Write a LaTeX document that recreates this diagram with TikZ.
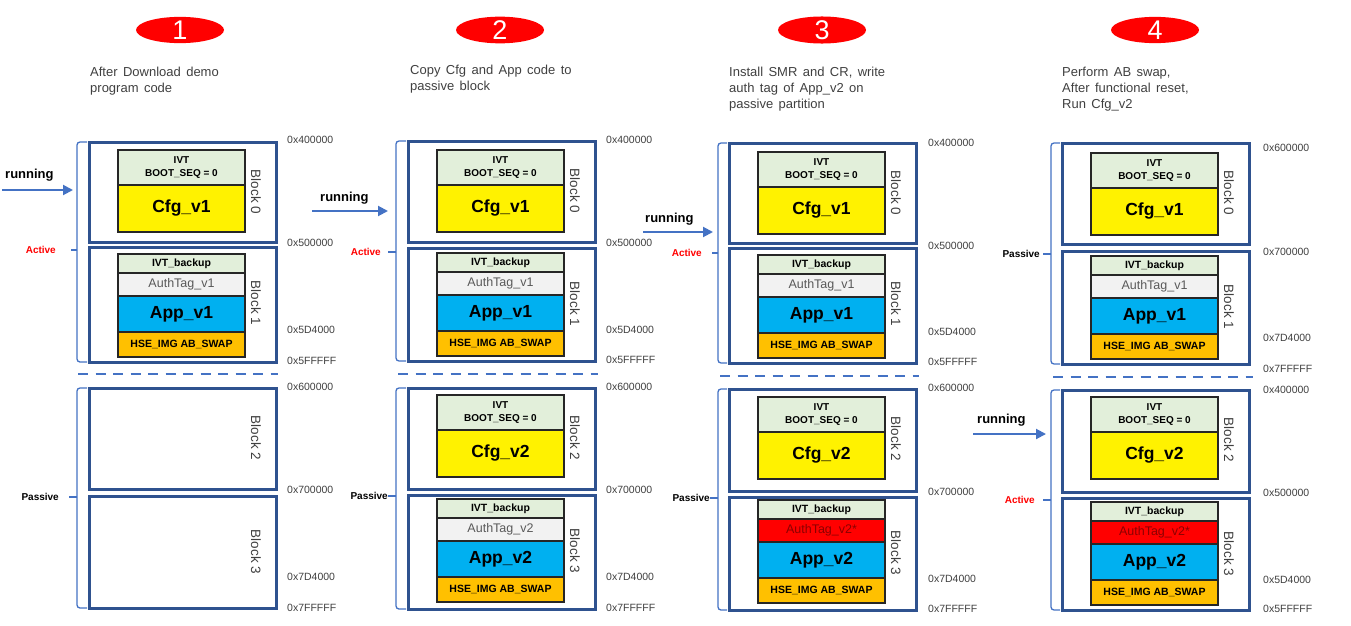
\documentclass[tikz,border=0pt]{standalone}
\usepackage{fontspec}
\setmainfont{Liberation Sans}
\newfontfamily\capfont[WordSpace=1.5]{Liberation Sans}
\usetikzlibrary{arrows.meta,shapes.geometric}
\definecolor{blkblue}{RGB}{47,82,143}
\definecolor{lnblue}{RGB}{68,114,196}
\definecolor{ivtgreen}{RGB}{226,239,218}
\definecolor{authgray}{RGB}{242,242,242}
\definecolor{authtxt}{RGB}{89,89,89}
\definecolor{appblue}{RGB}{0,176,240}
\definecolor{hseorange}{RGB}{255,192,0}
\definecolor{txtgray}{RGB}{64,64,64}
\definecolor{authred}{RGB}{140,0,0}
\newcommand\myfs[2]{\fontsize{#1}{#2}\selectfont}
\tikzset{
 outerblk/.style={draw=blkblue, line width=3pt, minimum width=187pt, anchor=north west, inner sep=0pt, outer sep=0pt},
 seg/.style={draw=black!85, line width=1.3pt, minimum width=127pt, anchor=north west, inner sep=0pt, outer sep=0pt, align=center},
 ivtseg/.style={seg, fill=ivtgreen, minimum height=35pt, font=\bfseries\myfs{10}{12.5}},
 cfgseg/.style={seg, fill=yellow, minimum height=47pt, font=\bfseries\myfs{17.5}{20}},
 ivtbseg/.style={seg, fill=ivtgreen, minimum height=19pt, font=\bfseries\myfs{10.5}{12}},
 authseg/.style={seg, fill=authgray, text=authtxt, minimum height=23pt, font=\myfs{12.5}{14}},
 authredseg/.style={seg, fill=red, text=authred, minimum height=23pt, font=\myfs{12.5}{14}},
 appseg/.style={seg, fill=appblue, minimum height=36pt, font=\bfseries\myfs{17.5}{20}},
 hseseg/.style={seg, fill=hseorange, minimum height=25pt, font=\bfseries\myfs{10.5}{12}},
 blklbl/.style={rotate=-90, text=txtgray, font=\myfs{13.5}{15}, inner sep=0pt},
 addr/.style={anchor=west, text=txtgray, font=\myfs{10.5}{12}, inner sep=0pt},
 brace/.style={draw=lnblue, line width=1.3pt, rounded corners=3pt},
 divider/.style={draw=lnblue, line width=2.6pt, dash pattern=on 10pt off 7.5pt},
 runarrow/.style={draw=lnblue, line width=2pt, -{Triangle[length=10pt,width=10pt]}},
 runlbl/.style={anchor=west, font=\bfseries\myfs{13}{15}, inner sep=0pt},
 activelbl/.style={anchor=east, text=red, font=\bfseries\myfs{10}{12}, inner sep=0pt},
 passivelbl/.style={anchor=east, text=black, font=\bfseries\myfs{10}{12}, inner sep=0pt},
 stepnum/.style={ellipse, fill=red, minimum width=88pt, minimum height=26pt, inner sep=0pt, text=white, font=\myfs{27}{27}},
 captionlbl/.style={anchor=north west, align=left, text=txtgray, font=\capfont\myfs{13}{16}, inner sep=0pt},
}
% name, x0, y0, h, cfg text, block label, inner offset
\newcommand\cfgblk[7]{%
  \node[outerblk, minimum height=#4] (#1) at (#2,#3) {};
  \node[ivtseg] (#1i) at (#2+29,#3+#7) {IVT\\BOOT\_SEQ = 0};
  \node[cfgseg] (#1c) at (#1i.south west) {#5};
  \node[blklbl] (#1l) at (#2+167,#3+50) {#6};
}
% name, x0, y0, h, auth style, auth text, app text, block label, inner offset
\newcommand\appblk[9]{%
  \node[outerblk, minimum height=#4] (#1) at (#2,#3) {};
  \node[ivtbseg] (#1i) at (#2+29,#3+#9) {IVT\_backup};
  \node[#5] (#1a) at (#1i.south west) {#6};
  \node[appseg] (#1p) at (#1a.south west) {#7};
  \node[hseseg] (#1h) at (#1p.south west) {HSE\_IMG AB\_SWAP};
  \node[blklbl] (#1l) at (#2+167,#3+56) {#8};
}
\begin{document}
\begin{tikzpicture}[x=1pt,y=-1pt]
\useasboundingbox (0,0) rectangle (1351,626);
\fill[white] (0,0) rectangle (1351,626);

% ---------------- Panel 1 ----------------
\node[stepnum] (n1) at (180,30) {1};
\node[captionlbl] (c1) at (90,67) {After Download demo\\program code};
\cfgblk{p1b0}{89}{142}{100}{Cfg\_v1}{Block 0}{8}
\appblk{p1b1}{89}{247}{115}{authseg}{AuthTag\_v1}{App\_v1}{Block 1}{7}
\node[outerblk, minimum height=101] (p1b2) at (89,388) {};
\node[blklbl] (p1b2l) at (256,438) {Block 2};
\node[outerblk, minimum height=112] (p1b3) at (89,496) {};
\node[blklbl] (p1b3l) at (256,552) {Block 3};
\node[addr] (p1a1) at (287,140) {0x400000};
\node[addr] (p1a2) at (287,243) {0x500000};
\node[addr] (p1a3) at (287,330) {0x5D4000};
\node[addr] (p1a4) at (287,361) {0x5FFFFF};
\node[addr] (p1a5) at (287,387) {0x600000};
\node[addr] (p1a6) at (287,490) {0x700000};
\node[addr] (p1a7) at (287,577) {0x7D4000};
\node[addr] (p1a8) at (287,608) {0x7FFFFF};
\draw[brace] (87,142) -- (77,142) -- (77,362) -- (87,362);
\coordinate (p1t1a) at (77,250); \coordinate (p1t1b) at (71,250);
\draw[brace] (p1t1a) -- (p1t1b);
\node[activelbl] (p1act) at (56,250) {Active};
\draw[brace] (87,388) -- (77,388) -- (77,608) -- (87,608);
\coordinate (p1t2a) at (77,497); \coordinate (p1t2b) at (69,497);
\draw[brace] (p1t2a) -- (p1t2b);
\node[passivelbl] (p1pas) at (59,497) {Passive};
\coordinate (p1d1) at (78,374); \coordinate (p1d2) at (278,374);
\draw[divider] (p1d1) -- (p1d2);
\node[runlbl] (p1run) at (5,175) {running};
\coordinate (p1r1) at (2,190); \coordinate (p1r2) at (73,190);
\draw[runarrow] (p1r1) -- (p1r2);

% ---------------- Panel 2 ----------------
\node[stepnum] (n2) at (500,30) {2};
\node[captionlbl] (c2) at (410,65) {Copy Cfg and App code to\\passive block};
\cfgblk{p2b0}{408}{141}{101}{Cfg\_v1}{Block 0}{9}
\appblk{p2b1}{408}{248}{113}{authseg}{AuthTag\_v1}{App\_v1}{Block 1}{5}
\cfgblk{p2b2}{408}{388}{101}{Cfg\_v2}{Block 2}{7}
\appblk{p2b3}{408}{495}{114}{authseg}{AuthTag\_v2}{App\_v2}{Block 3}{4}
\node[addr] (p2a1) at (606,140) {0x400000};
\node[addr] (p2a2) at (606,243) {0x500000};
\node[addr] (p2a3) at (606,330) {0x5D4000};
\node[addr] (p2a4) at (606,360) {0x5FFFFF};
\node[addr] (p2a5) at (606,387) {0x600000};
\node[addr] (p2a6) at (606,490) {0x700000};
\node[addr] (p2a7) at (606,577) {0x7D4000};
\node[addr] (p2a8) at (606,608) {0x7FFFFF};
\draw[brace] (406,141) -- (396,141) -- (396,361) -- (406,361);
\coordinate (p2t1a) at (396,252); \coordinate (p2t1b) at (388,252);
\draw[brace] (p2t1a) -- (p2t1b);
\node[activelbl] (p2act) at (381,252) {Active};
\draw[brace] (406,388) -- (396,388) -- (396,609) -- (406,609);
\coordinate (p2t2a) at (396,496); \coordinate (p2t2b) at (388,496);
\draw[brace] (p2t2a) -- (p2t2b);
\node[passivelbl] (p2pas) at (388,496) {Passive};
\coordinate (p2d1) at (398,374); \coordinate (p2d2) at (598,374);
\draw[divider] (p2d1) -- (p2d2);
\node[runlbl] (p2run) at (320,198) {running};
\coordinate (p2r1) at (312,211); \coordinate (p2r2) at (388,211);
\draw[runarrow] (p2r1) -- (p2r2);

% ---------------- Panel 3 ----------------
\node[stepnum] (n3) at (822,30) {3};
\node[captionlbl] (c3) at (729,67) {Install SMR and CR, write\\auth tag of App\_v2 on\\passive partition};
\cfgblk{p3b0}{729}{143}{100}{Cfg\_v1}{Block 0}{9}
\appblk{p3b1}{729}{248}{115}{authseg}{AuthTag\_v1}{App\_v1}{Block 1}{7}
\cfgblk{p3b2}{729}{389}{102}{Cfg\_v2}{Block 2}{8}
\appblk{p3b3}{729}{497}{113}{authredseg}{AuthTag\_v2*}{App\_v2}{Block 3}{3}
\node[addr] (p3a1) at (928,143) {0x400000};
\node[addr] (p3a2) at (928,246) {0x500000};
\node[addr] (p3a3) at (928,332) {0x5D4000};
\node[addr] (p3a4) at (928,362) {0x5FFFFF};
\node[addr] (p3a5) at (928,388) {0x600000};
\node[addr] (p3a6) at (928,492) {0x700000};
\node[addr] (p3a7) at (928,579) {0x7D4000};
\node[addr] (p3a8) at (928,609) {0x7FFFFF};
\draw[brace] (727,143) -- (718,143) -- (718,363) -- (727,363);
\coordinate (p3t1a) at (718,253); \coordinate (p3t1b) at (712,253);
\draw[brace] (p3t1a) -- (p3t1b);
\node[activelbl] (p3act) at (702,253) {Active};
\draw[brace] (727,389) -- (718,389) -- (718,610) -- (727,610);
\coordinate (p3t2a) at (718,498); \coordinate (p3t2b) at (710,498);
\draw[brace] (p3t2a) -- (p3t2b);
\node[passivelbl] (p3pas) at (710,498) {Passive};
\coordinate (p3d1) at (720,376); \coordinate (p3d2) at (919,376);
\draw[divider] (p3d1) -- (p3d2);
\node[runlbl] (p3run) at (645,219) {running};
\coordinate (p3r1) at (643,232); \coordinate (p3r2) at (713,232);
\draw[runarrow] (p3r1) -- (p3r2);

% ---------------- Panel 4 ----------------
\node[stepnum] (n4) at (1155,30) {4};
\node[captionlbl] (c4) at (1062,67) {Perform AB swap,\\After functional reset,\\Run Cfg\_v2};
\cfgblk{p4b0}{1062}{143}{101}{Cfg\_v1}{Block 0}{10}
\appblk{p4b1}{1062}{251}{113}{authseg}{AuthTag\_v1}{App\_v1}{Block 1}{5}
\cfgblk{p4b2}{1062}{390}{102}{Cfg\_v2}{Block 2}{7}
\appblk{p4b3}{1062}{498}{112}{authredseg}{AuthTag\_v2*}{App\_v2}{Block 3}{4}
\node[addr] (p4a1) at (1263,148) {0x600000};
\node[addr] (p4a2) at (1263,252) {0x700000};
\node[addr] (p4a3) at (1263,338) {0x7D4000};
\node[addr] (p4a4) at (1263,369) {0x7FFFFF};
\node[addr] (p4a5) at (1263,390) {0x400000};
\node[addr] (p4a6) at (1263,493) {0x500000};
\node[addr] (p4a7) at (1263,580) {0x5D4000};
\node[addr] (p4a8) at (1263,609) {0x5FFFFF};
\draw[brace] (1060,143) -- (1051,143) -- (1051,364) -- (1060,364);
\coordinate (p4t1a) at (1051,254); \coordinate (p4t1b) at (1043,254);
\draw[brace] (p4t1a) -- (p4t1b);
\node[passivelbl] (p4pas) at (1040,254) {Passive};
\draw[brace] (1060,390) -- (1051,390) -- (1051,610) -- (1060,610);
\coordinate (p4t2a) at (1051,500); \coordinate (p4t2b) at (1043,500);
\draw[brace] (p4t2a) -- (p4t2b);
\node[activelbl] (p4act) at (1035,500) {Active};
\coordinate (p4d1) at (1053,377); \coordinate (p4d2) at (1253,377);
\draw[divider] (p4d1) -- (p4d2);
\node[runlbl] (p4run) at (977,420) {running};
\coordinate (p4r1) at (973,434); \coordinate (p4r2) at (1046,434);
\draw[runarrow] (p4r1) -- (p4r2);
\end{tikzpicture}
\end{document}
